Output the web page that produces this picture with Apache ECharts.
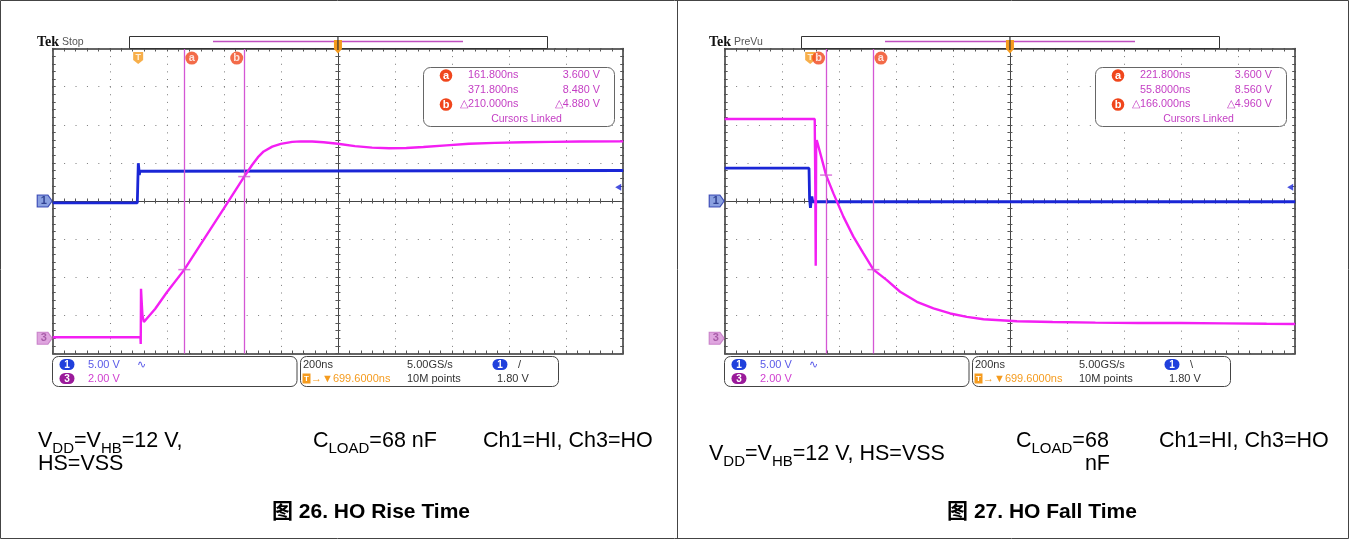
<!DOCTYPE html>
<html><head><meta charset="utf-8">
<script src="https://cdn.jsdelivr.net/npm/echarts@6/dist/echarts.min.js"></script>
<style>html,body{margin:0;padding:0;background:#fff}#c{width:1349px;height:539px}</style>
</head><body><div id="c"></div><script>
// ================= DATA =================
// time axis (ns, relative to trigger), 200 ns/div, 10 divisions
const timeRange = [-299.6, 1700.4];
// CH1 5 V/div ground at centre; CH3 2 V/div ground at -3.6 div
const ch1Range = [-20, 20];
const ch3Range = [-0.8, 15.2];

// Figure 26 - HO rise time
const riseCh1T = [-299.6, -3, -1.5, 0.5, 2, 4, 6, 9, 1700.4];
const riseCh1V = [-0.25, -0.25, 2.0, 4.95, 4.4, 3.4, 3.9, 4.0, 4.0];
const riseCh3T = [-299.6, 8, 9, 10, 12, 15, 20, 26, 60, 100, 161.8, 220, 300, 371.8, 400, 420, 440, 470, 500, 540, 570, 610, 650, 700, 760, 820, 880, 940, 1000, 1080, 1160, 1250, 1350, 1450, 1550, 1700.4];
const riseCh3V = [0.05, 0.05, -0.3, 2.6, 2.0, 1.2, 0.85, 0.85, 1.55, 2.4, 3.6, 4.95, 6.8, 8.48, 9.1, 9.5, 9.8, 10.05, 10.2, 10.3, 10.33, 10.32, 10.28, 10.2, 10.08, 10.0, 9.97, 9.98, 10.03, 10.12, 10.2, 10.25, 10.28, 10.3, 10.32, 10.33];
const riseCursorT = [161.8, 371.8];
const riseCursorV = [3.6, 8.48];
const riseReadout = [['161.800ns', '3.600 V'], ['371.800ns', '8.480 V'], ['\u25B3210.000ns', '\u25B34.880 V']];

// Figure 27 - HO fall time
const fallCh1T = [-299.6, -4, -2, 1, 3, 6, 9, 14, 1700.4];
const fallCh1V = [4.3, 4.3, 0.2, -0.9, -0.2, 0.6, -0.1, -0.1, -0.1];
const fallCh3T = [-299.6, 16, 18, 19.5, 21, 23, 40, 55.8, 81.5, 116.5, 151.6, 186.7, 221.8, 268.8, 315.4, 374.1, 432.3, 490.9, 549.5, 607.8, 725, 850, 1000, 1150, 1300, 1450, 1600, 1700.4];
const fallCh3V = [11.5, 11.5, 8.0, 3.8, 10.0, 10.4, 9.45, 8.56, 7.6, 6.38, 5.33, 4.45, 3.6, 3.05, 2.44, 1.91, 1.57, 1.3, 1.12, 1.0, 0.89, 0.85, 0.82, 0.8, 0.8, 0.78, 0.76, 0.75];
const fallCursorT = [221.8, 55.8];
const fallCursorV = [3.6, 8.56];
const fallReadout = [['221.800ns', '3.600 V'], ['55.8000ns', '8.560 V'], ['\u25B3166.000ns', '\u25B34.960 V']];

const cursorNames = ['a', 'b'];
const triggerT = 0;
const triggerLevel = 1.8;
const scopeStatus = ['Stop', 'PreVu'];
const triggerSlope = ['/', '\\'];
const infoRow1 = ['5.00 V', '200ns', '5.00GS/s'];
const infoRow2 = ['2.00 V', '\u2192\u25BC699.6000ns', '10M points', '1.80 V'];
const titles = ['\u56FE 26. HO Rise Time', '\u56FE 27. HO Fall Time'];

// ================= LAYOUT =================
const FONT = 'Liberation Sans';
const GX = [52.7, 724.7], GY = 48.5, GW = 570.5, GH = 305;
const BLUE = '#1a26d6', MAG = '#f31ff3', CUR = '#d457d4', RO = '#c43ec4', ORANGE = '#f59b1e', RED = '#f0461c';

const option = {animation: false, backgroundColor: '#fff', grid: [], xAxis: [], yAxis: [], series: [], graphic: []};
const zip = (a, b) => a.map((v, i) => [v, b[i]]);

function addGrid(p) {
  option.grid.push({left: GX[p], top: GY, width: GW, height: GH, show: false});
  return option.grid.length - 1;
}
function divAxis(isX, gi, pos, opts) {
  const ax = Object.assign({
    gridIndex: gi, type: 'value', min: isX ? -5 : -4, max: isX ? 5 : 4, interval: 1, position: pos,
    axisLabel: {show: false}, splitLine: {show: false},
    axisLine: {show: true, onZero: false, lineStyle: {color: '#333', width: 1.5}},
    axisTick: {show: true, inside: true, length: 3, lineStyle: {color: '#555'}},
    minorTick: {show: true, splitNumber: 5, length: 3, lineStyle: {color: '#555'}}
  }, opts || {});
  (isX ? option.xAxis : option.yAxis).push(ax);
  return (isX ? option.xAxis : option.yAxis).length - 1;
}
function T(x, y, text, o) {
  o = o || {};
  return {type: 'text', z: 100, style: {x: x, y: y, text: text, fill: o.fill || '#333',
    font: (o.weight || 'normal') + ' ' + (o.size || 11) + 'px ' + (o.family || FONT),
    textAlign: o.align || 'left', textVerticalAlign: 'middle', verticalAlign: 'middle'}};
}
function pill(cx, cy, txt, color) {
  return [
    {type: 'rect', z: 100, shape: {x: cx - 7.5, y: cy - 5.5, width: 15, height: 11, r: 5.5}, style: {fill: color}},
    T(cx, cy + 0.5, txt, {fill: '#fff', align: 'center', size: 10, weight: 'bold'})
  ];
}

function panel(p, d) {
  const dx = p === 0 ? 0 : 672;
  // edge graticule
  const ge = addGrid(p);
  divAxis(true, ge, 'bottom', {splitLine: {show: true, lineStyle: {color: '#7a7a7a', width: 1, type: [1, 6.625]}}});
  divAxis(true, ge, 'top');
  divAxis(false, ge, 'left', {splitLine: {show: true, lineStyle: {color: '#7a7a7a', width: 1, type: [1, 10.41]}}});
  divAxis(false, ge, 'right');
  // centre cross, ticks both sides
  [true, false].forEach(function (ins) {
    const gc = addGrid(p);
    const c = {axisLine: {show: true, onZero: true, lineStyle: {color: '#444', width: 1}},
      axisTick: {show: true, inside: ins, length: 2.5, lineStyle: {color: '#555'}},
      minorTick: {show: true, splitNumber: 5, length: 2.5, lineStyle: {color: '#555'}}};
    divAxis(true, gc, 'bottom', c);
    divAxis(false, gc, 'left', c);
  });
  // data grid
  const gd = addGrid(p);
  option.xAxis.push({gridIndex: gd, type: 'value', min: timeRange[0], max: timeRange[1], show: false});
  const xt = option.xAxis.length - 1;
  option.yAxis.push({gridIndex: gd, type: 'value', min: ch1Range[0], max: ch1Range[1], show: false});
  const y1 = option.yAxis.length - 1;
  option.yAxis.push({gridIndex: gd, type: 'value', min: ch3Range[0], max: ch3Range[1], show: false});
  const y3 = option.yAxis.length - 1;
  option.yAxis.push({gridIndex: gd, type: 'value', min: -4, max: 4, show: false});
  const yd = option.yAxis.length - 1;

  option.series.push({type: 'line', xAxisIndex: xt, yAxisIndex: y1, data: zip(d.c1t, d.c1v), showSymbol: false, silent: true, z: 3,
    lineStyle: {color: BLUE, width: 2.8}, itemStyle: {color: BLUE},
    markLine: {silent: true, symbol: ['none', 'none'], label: {show: false}, lineStyle: {color: CUR, width: 1.3, type: 'solid'},
      data: d.curT.map(t => ({xAxis: t}))}});
  option.series.push({type: 'line', xAxisIndex: xt, yAxisIndex: y3, data: zip(d.c3t, d.c3v), showSymbol: false, silent: true, z: 4,
    lineStyle: {color: MAG, width: 2.4}, itemStyle: {color: MAG}});
  // cursor crosshair ticks
  option.series.push({type: 'scatter', xAxisIndex: xt, yAxisIndex: y3, data: zip(d.curT, d.curV), symbol: 'rect', symbolSize: [12, 1.5],
    itemStyle: {color: CUR}, silent: true, z: 6, clip: false});
  // trigger marker
  option.series.push({type: 'scatter', xAxisIndex: xt, yAxisIndex: yd, data: [[triggerT, 3.75]], silent: true, z: 6, clip: false,
    symbol: 'path://M0,0H10V8L5,12L0,8Z', symbolSize: [10, 12], itemStyle: {color: ORANGE},
    label: {show: true, position: 'inside', formatter: 'T', color: '#fff', fontWeight: 'bold', fontSize: 9, fontFamily: FONT, offset: [0, -1]}});
  // cursor name markers
  option.series.push({type: 'scatter', xAxisIndex: xt, yAxisIndex: yd, silent: true, z: 7, clip: false,
    data: d.curT.map((t, i) => ({value: [t, 3.75], symbolOffset: [i === 0 ? 7.5 : -7.5, 0],
      label: {formatter: cursorNames[i], offset: [0, 0]}})),
    symbol: 'circle', symbolSize: 13, itemStyle: {color: RED},
    label: {show: true, position: 'inside', color: '#fff', fontWeight: 'bold', fontSize: 11, fontFamily: FONT}});
  // trigger level arrow
  option.series.push({type: 'scatter', xAxisIndex: xt, yAxisIndex: y1, data: [[timeRange[1], triggerLevel]], silent: true, z: 6, clip: false,
    symbol: 'triangle', symbolRotate: 90, symbolSize: [7, 6], symbolOffset: [-5, 0], itemStyle: {color: BLUE}});
  // channel ground markers
  option.series.push({type: 'scatter', xAxisIndex: xt, yAxisIndex: y1, data: [[timeRange[0], 0]], silent: true, z: 6, clip: false,
    symbol: 'path://M0,0H10L14,6L10,12H0Z', symbolSize: [15, 12], symbolOffset: [-8, 0],
    itemStyle: {color: '#6d88d8', borderColor: '#1a2aa8', borderWidth: 1},
    label: {show: true, position: 'inside', formatter: '1', color: '#1a2a80', fontWeight: 'bold', fontSize: 11, fontFamily: FONT, offset: [-1, 0]}});
  option.series.push({type: 'scatter', xAxisIndex: xt, yAxisIndex: y3, data: [[timeRange[0], 0]], silent: true, z: 6, clip: false,
    symbol: 'path://M0,0H10L14,6L10,12H0Z', symbolSize: [15, 12], symbolOffset: [-8, 0],
    itemStyle: {color: '#d78fd7', borderColor: '#c070c0', borderWidth: 1},
    label: {show: true, position: 'inside', formatter: '3', color: '#9a4a9a', fontWeight: 'bold', fontSize: 11, fontFamily: FONT, offset: [-1, 0]}});

  // ---- graphics ----
  const g = option.graphic;
  const cx = GX[p] + GW / 2;
  g.push(T(37 + dx, 42, 'Tek', {fill: '#111', size: 14, weight: 'bold', family: 'Liberation Serif'}));
  g.push(T(62 + dx, 42.5, scopeStatus[p], {fill: '#555', size: 10.5}));
  g.push({type: 'rect', z: 90, shape: {x: 129.5 + dx, y: 36.5, width: 418, height: 12}, style: {fill: '#fff', stroke: '#333', lineWidth: 1}});
  g.push({type: 'line', z: 91, shape: {x1: 213 + dx, y1: 41.5, x2: 463 + dx, y2: 41.5}, style: {stroke: '#c050c0', lineWidth: 1.5}});
  g.push({type: 'polygon', z: 92, shape: {points: [[cx - 4, 40], [cx + 4, 40], [cx + 4, 49], [cx, 53.5], [cx - 4, 49]]}, style: {fill: ORANGE}});
  g.push({type: 'line', z: 93, shape: {x1: cx, y1: 36.5, x2: cx, y2: 50}, style: {stroke: '#333', lineWidth: 1.2}});
  // readout box
  g.push({type: 'rect', z: 95, shape: {x: 423.5 + dx, y: 67.5, width: 191, height: 59, r: 7}, style: {fill: '#fff', stroke: '#666', lineWidth: 1}});
  const rows = [75.5, 90, 104.5, 119];
  [0, 2].forEach(function (ri, k) {
    g.push({type: 'circle', z: 100, shape: {cx: 446 + dx, cy: rows[ri], r: 6.3}, style: {fill: RED}});
    g.push(T(446 + dx, rows[ri] + 0.5, cursorNames[k], {fill: '#fff', align: 'center', size: 11, weight: 'bold'}));
  });
  d.ro.forEach(function (r, i) {
    g.push(T(518.5 + dx, rows[i], r[0], {fill: RO, align: 'right', size: 10.8}));
    g.push(T(600 + dx, rows[i], r[1], {fill: RO, align: 'right', size: 10.8}));
  });
  g.push(T(526.5 + dx, rows[3], 'Cursors Linked', {fill: RO, align: 'center', size: 10.5}));
  // bottom info boxes
  g.push({type: 'rect', z: 95, shape: {x: 52.5 + dx, y: 356.5, width: 244.5, height: 30, r: 6}, style: {fill: '#fff', stroke: '#444', lineWidth: 1}});
  g.push({type: 'rect', z: 95, shape: {x: 300.5 + dx, y: 356.5, width: 258, height: 30, r: 6}, style: {fill: '#fff', stroke: '#444', lineWidth: 1}});
  const r1 = 364.5, r2 = 378.5;
  pill(67 + dx, r1, '1', '#2040dc').forEach(e => g.push(e));
  pill(67 + dx, r2, '3', '#9a1a9a').forEach(e => g.push(e));
  g.push(T(88 + dx, r1, infoRow1[0], {fill: '#5a5ae8', size: 11}));
  g.push(T(137 + dx, r1, '\u223F', {fill: '#5a5ae8', size: 11}));
  g.push(T(88 + dx, r2, infoRow2[0], {fill: '#d040d0', size: 11}));
  g.push(T(303 + dx, r1, infoRow1[1], {fill: '#333', size: 11}));
  g.push(T(407 + dx, r1, infoRow1[2], {fill: '#333', size: 11}));
  pill(500 + dx, r1, '1', '#2040dc').forEach(e => g.push(e));
  g.push(T(518 + dx, r1, triggerSlope[p], {fill: '#333', size: 11}));
  g.push({type: 'rect', z: 100, shape: {x: 302.5 + dx, y: r2 - 5, width: 8, height: 10}, style: {fill: ORANGE}});
  g.push(T(306.5 + dx, r2 + 0.5, 'T', {fill: '#fff', align: 'center', size: 8, weight: 'bold'}));
  g.push(T(311 + dx, r2, infoRow2[1], {fill: ORANGE, size: 11}));
  g.push(T(407 + dx, r2, infoRow2[2], {fill: '#333', size: 11}));
  g.push(T(497 + dx, r2, infoRow2[3], {fill: '#333', size: 11}));
}

panel(0, {c1t: riseCh1T, c1v: riseCh1V, c3t: riseCh3T, c3v: riseCh3V, curT: riseCursorT, curV: riseCursorV, ro: riseReadout});
panel(1, {c1t: fallCh1T, c1v: fallCh1V, c3t: fallCh3T, c3v: fallCh3V, curT: fallCursorT, curV: fallCursorV, ro: fallReadout});

// ---- captions ----
const rich = {
  m: {fontSize: 21.5, fontFamily: FONT, fill: '#000', lineHeight: 30, verticalAlign: 'middle'},
  s: {fontSize: 15, fontFamily: FONT, fill: '#000', lineHeight: 30, verticalAlign: 'bottom'}
};
function cap(x, y, parts, align) {
  const txt = parts.map(pt => '{' + (pt[1] ? 's' : 'm') + '|' + pt[0] + '}').join('');
  return {type: 'text', z: 100, style: {x: x, y: y, text: txt, rich: rich, textAlign: align || 'left', textVerticalAlign: 'middle', verticalAlign: 'middle'}};
}
const vdd = [['V', 0], ['DD', 1], ['=V', 0], ['HB', 1]];
const G = option.graphic;
G.push(cap(38, 441, vdd.concat([['=12 V,', 0]])));
G.push(cap(38, 464, [['HS=VSS', 0]]));
G.push(cap(313, 441, [['C', 0], ['LOAD', 1], ['=68 nF', 0]]));
G.push(cap(483, 441, [['Ch1=HI, Ch3=HO', 0]]));
G.push(cap(709, 454, vdd.concat([['=12 V, HS=VSS', 0]])));
G.push(cap(1016, 441, [['C', 0], ['LOAD', 1], ['=68', 0]]));
G.push(cap(1110, 464, [['nF', 0]], 'right'));
G.push(cap(1159, 441, [['Ch1=HI, Ch3=HO', 0]]));
G.push(T(371, 512, titles[0], {fill: '#000', size: 21, weight: 'bold', align: 'center', family: FONT + ', "Noto Sans CJK SC"'}));
G.push(T(1042, 512, titles[1], {fill: '#000', size: 21, weight: 'bold', align: 'center', family: FONT + ', "Noto Sans CJK SC"'}));
// frame
G.push({type: 'rect', z: 100, shape: {x: 0.5, y: 0.5, width: 1348, height: 538}, style: {fill: 'none', stroke: '#444', lineWidth: 1}});
G.push({type: 'line', z: 100, shape: {x1: 677.5, y1: 0, x2: 677.5, y2: 539}, style: {stroke: '#444', lineWidth: 1}});

const chart = echarts.init(document.getElementById('c'), null, {renderer: 'canvas'});
chart.setOption(option);
</script></body></html>
